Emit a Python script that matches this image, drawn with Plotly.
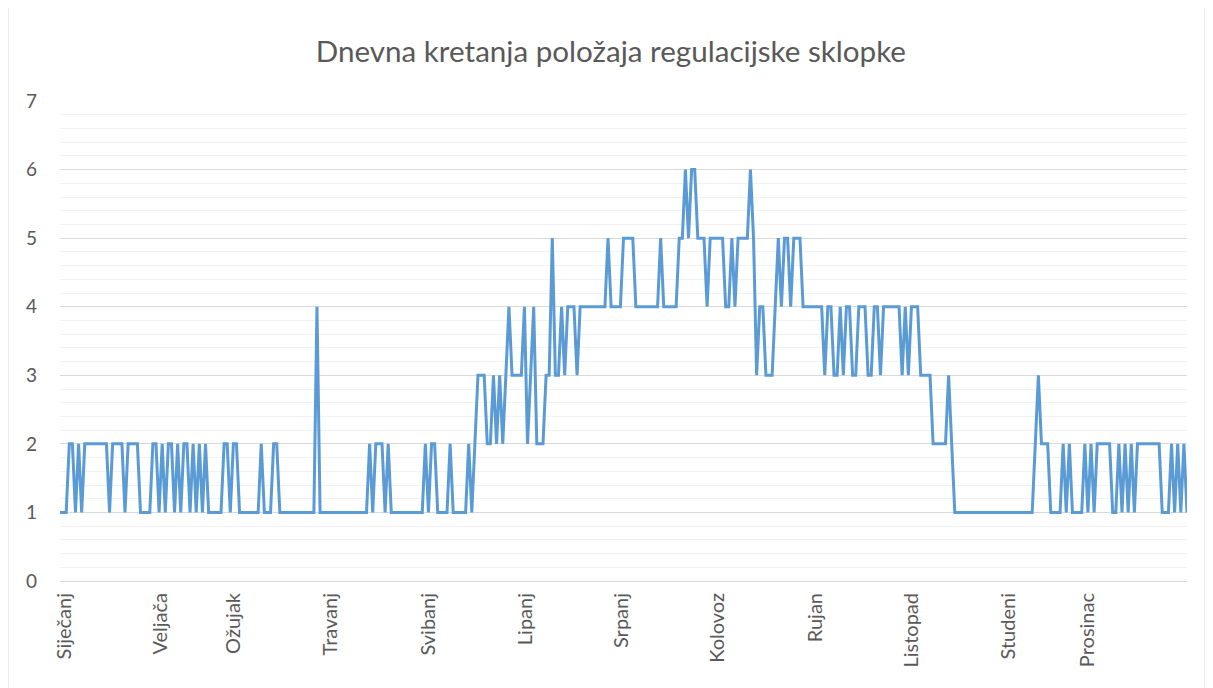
import plotly.graph_objects as go

months = ['Siječanj', 'Veljača', 'Ožujak', 'Travanj', 'Svibanj', 'Lipanj',
          'Srpanj', 'Kolovoz', 'Rujan', 'Listopad', 'Studeni', 'Prosinac']
# day index where each month label sits on the category axis
label_days = [1.5, 32.5, 56, 87.5, 119, 150.5, 181.5, 212.5, 244, 275, 306.5, 332]

# daily switch position, one list per month
sijecanj = [1, 1, 1, 2, 2, 1, 2, 1, 2, 2, 2, 2, 2, 2, 2, 2, 1, 2, 2, 2, 2, 1, 2, 2, 2, 2, 1, 1, 1, 1, 2]
veljaca = [2, 1, 2, 1, 2, 2, 1, 2, 1, 2, 2, 1, 2, 1, 2, 1, 2, 1, 1, 1, 1, 1, 2, 2, 1, 2, 2, 1]
ozujak = [1, 1, 1, 1, 1, 1, 2, 1, 1, 1, 2, 2, 1, 1, 1, 1, 1, 1, 1, 1, 1, 1, 1, 1, 4, 1, 1, 1, 1, 1, 1]
travanj = [1, 1, 1, 1, 1, 1, 1, 1, 1, 1, 2, 1, 2, 2, 2, 1, 2, 1, 1, 1, 1, 1, 1, 1, 1, 1, 1, 1, 2, 1]
svibanj = [2, 2, 1, 1, 1, 1, 2, 1, 1, 1, 1, 1, 2, 1, 2, 3, 3, 3, 2, 2, 3, 2, 3, 2, 3, 4, 3, 3, 3, 3, 4]
lipanj = [2, 3, 4, 2, 2, 2, 3, 3, 5, 3, 3, 4, 3, 4, 4, 4, 3, 4, 4, 4, 4, 4, 4, 4, 4, 4, 5, 4, 4, 4]
srpanj = [4, 5, 5, 5, 5, 4, 4, 4, 4, 4, 4, 4, 4, 5, 4, 4, 4, 4, 4, 5, 5, 6, 5, 6, 6, 5, 5, 5, 4, 5, 5]
kolovoz = [5, 5, 5, 4, 4, 5, 4, 5, 5, 5, 5, 6, 5, 3, 4, 4, 3, 3, 3, 4, 5, 4, 5, 5, 4, 5, 5, 5, 4, 4, 4]
rujan = [4, 4, 4, 4, 3, 4, 4, 3, 3, 4, 3, 4, 4, 3, 3, 4, 4, 4, 3, 3, 4, 4, 3, 4, 4, 4, 4, 4, 4, 3]
listopad = [4, 3, 4, 4, 4, 3, 3, 3, 3, 2, 2, 2, 2, 2, 3, 2, 1, 1, 1, 1, 1, 1, 1, 1, 1, 1, 1, 1, 1, 1, 1]
studeni = [1, 1, 1, 1, 1, 1, 1, 1, 1, 1, 1, 2, 3, 2, 2, 2, 1, 1, 1, 1, 2, 1, 2, 1, 1, 1, 1, 2, 1, 2]
prosinac = [1, 2, 2, 2, 2, 2, 1, 1, 2, 1, 2, 1, 2, 1, 2, 2, 2, 2, 2, 2, 2, 2, 1, 1, 1, 2, 1, 2, 1, 2, 1]

monthly = [sijecanj, veljaca, ozujak, travanj, svibanj, lipanj,
           srpanj, kolovoz, rujan, listopad, studeni, prosinac]

position = [v for m in monthly for v in m]
days = list(range(len(position)))

grey = '#595959'
font = 'Lato, Calibri, sans-serif'

fig = go.Figure(go.Scatter(x=days, y=position, mode='lines',
                           line=dict(color='#5B9BD5', width=3), hoverinfo='skip'))

fig.update_layout(
    width=1213, height=688,
    margin=dict(l=52, r=34, t=93, b=115),
    paper_bgcolor='white', plot_bgcolor='white',
    showlegend=False,
    font=dict(family=font, color=grey),
    title=dict(text='Dnevna kretanja položaja regulacijske sklopke',
               x=0.497, xanchor='center', y=1 - 44 / 688, yanchor='middle',
               font=dict(size=29.6, color=grey, family=font)),
)

fig.update_xaxes(range=[0, len(position) - 1], tickmode='array',
                 tickvals=label_days, ticktext=months, tickangle=-90,
                 tickfont=dict(size=20, color=grey), ticklabelstandoff=3,
                 showgrid=False, zeroline=False,
                 showline=True, linecolor='#d9d9d9', linewidth=1)

fig.update_yaxes(range=[0, 7], dtick=1, tickfont=dict(size=19, color=grey),
                 gridcolor='#d9d9d9', gridwidth=1, zeroline=False, showline=False,
                 ticklabelstandoff=22,
                 minor=dict(dtick=0.2, showgrid=True, gridcolor='#f2f2f2', gridwidth=1))

# chart area border
fig.add_shape(type='rect', xref='paper', yref='paper',
              x0=-52 / 1127, x1=(1197 - 52) / 1127,
              y0=-0.3, y1=(573 + 0.5) / 480,
              line=dict(color='#d9d9d9', width=1), layer='below')

fig.write_html('out.html')
